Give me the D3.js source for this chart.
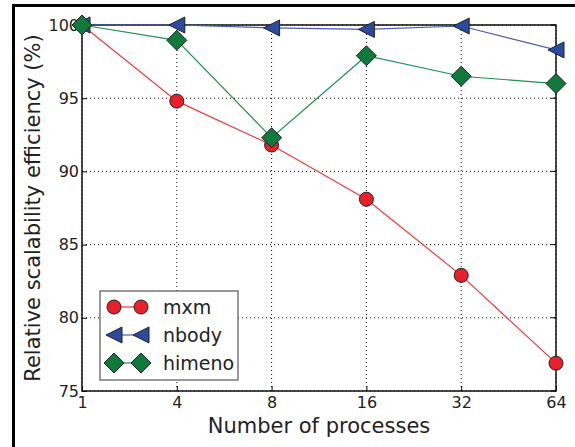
<!DOCTYPE html>
<html>
<head>
<meta charset="utf-8">
<script src="https://cdn.jsdelivr.net/npm/d3@7"></script>
<style>
  body { margin: 0; background: #fff; }
  text { font-family: "DejaVu Sans", sans-serif; fill: #222; }
</style>
</head>
<body>
<div id="chart"></div>
<script>
var processes = ['1', '4', '8', '16', '32', '64'];
var mxm    = [100, 94.8, 91.8, 88.1, 82.9, 76.9];
var nbody  = [100, 100, 99.8, 99.7, 99.93, 98.3];
var himeno = [100, 98.95, 92.3, 97.9, 96.5, 96.0];
var yTicks = [75, 80, 85, 90, 95, 100];

var width = 575, height = 447;
var margin = {left: 82, right: 19, top: 25, bottom: 56};

var svg = d3.select('#chart')
	.append('svg')
	.attr('width', width)
	.attr('height', height);

// outer frame (only left and top visible)
svg.append('path')
	.attr('d', 'M13.5,' + height + 'V5.5H' + width)
	.attr('fill', 'none')
	.attr('stroke', '#000')
	.attr('stroke-width', 3);

var x = d3.scalePoint()
	.domain(processes)
	.range([margin.left, width - margin.right]);

var y = d3.scaleLinear()
	.domain([75, 100])
	.range([height - margin.bottom, margin.top]);

// grid
svg.append('g')
	.selectAll('line')
	.data(processes)
	.enter()
	.append('line')
	.attr('x1', function(d) { return x(d); })
	.attr('x2', function(d) { return x(d); })
	.attr('y1', y(75))
	.attr('y2', y(100))
	.attr('stroke', '#000')
	.attr('stroke-width', 1)
	.attr('stroke-dasharray', '1,3');

svg.append('g')
	.selectAll('line')
	.data(yTicks)
	.enter()
	.append('line')
	.attr('x1', x.range()[0])
	.attr('x2', x.range()[1])
	.attr('y1', function(d) { return y(d); })
	.attr('y2', function(d) { return y(d); })
	.attr('stroke', '#000')
	.attr('stroke-width', 1)
	.attr('stroke-dasharray', '1,3');

// axes, ticks inward
var xAxis = svg.append('g')
	.attr('transform', 'translate(0,' + y(75) + ')')
	.call(d3.axisBottom(x).tickSizeInner(-5).tickSizeOuter(0).tickPadding(6));

var yAxis = svg.append('g')
	.attr('transform', 'translate(' + margin.left + ',0)')
	.call(d3.axisLeft(y).tickValues(yTicks).tickSizeInner(-5).tickSizeOuter(0).tickPadding(3));

[xAxis, yAxis].forEach(function(a) {
	a.select('.domain').remove();
	a.selectAll('text').style('font-size', '16px').attr('fill', '#222');
	a.selectAll('line').attr('stroke', '#000');
});

// frame of plot area
svg.append('rect')
	.attr('x', x.range()[0])
	.attr('y', y(100))
	.attr('width', x.range()[1] - x.range()[0])
	.attr('height', y(75) - y(100))
	.attr('fill', 'none')
	.attr('stroke', '#111')
	.attr('stroke-width', 1.5);

// right inward ticks
svg.append('g').selectAll('line').data(yTicks).enter().append('line')
	.attr('x1', x.range()[1]).attr('x2', x.range()[1] - 5)
	.attr('y1', function(d) { return y(d); }).attr('y2', function(d) { return y(d); })
	.attr('stroke', '#000');

var series = [
	{name: 'mxm', values: mxm, line: '#f03a3a', fill: '#e8202a', shape: 'circle'},
	{name: 'nbody', values: nbody, line: '#4a5cb0', fill: '#2d4b9e', shape: 'triangle'},
	{name: 'himeno', values: himeno, line: '#1f9150', fill: '#107a3c', shape: 'diamond'}
];

function marker(sel, s) {
	if (s.shape == 'circle') {
		sel.append('circle').attr('r', 7);
	} else if (s.shape == 'triangle') {
		sel.append('path').attr('d', 'M-8,0L8,-8L8,8Z');
	} else {
		sel.append('path').attr('d', 'M0,-10L10,0L0,10L-10,0Z');
	}
	sel.selectAll('circle,path')
		.attr('fill', s.fill)
		.attr('stroke', '#222')
		.attr('stroke-width', 1);
}

var line = d3.line()
	.x(function(d, i) { return x(processes[i]); })
	.y(function(d) { return y(d); });

series.forEach(function(s) {
	svg.append('path')
		.datum(s.values)
		.attr('d', line)
		.attr('fill', 'none')
		.attr('stroke', s.line)
		.attr('stroke-width', 1.2);
	s.values.forEach(function(v, i) {
		var g = svg.append('g')
			.attr('transform', 'translate(' + x(processes[i]) + ',' + y(v) + ')');
		marker(g, s);
	});
});

// legend
var legend = svg.append('g').attr('transform', 'translate(100,291)');
legend.append('rect')
	.attr('width', 138)
	.attr('height', 89)
	.attr('fill', '#fff')
	.attr('stroke', '#555')
	.attr('stroke-width', 1.2);

series.forEach(function(s, i) {
	var ly = 16 + i * 28;
	legend.append('line')
		.attr('x1', 14).attr('x2', 41)
		.attr('y1', ly).attr('y2', ly)
		.attr('stroke', s.line)
		.attr('stroke-width', 1.2);
	[14, 41].forEach(function(mx) {
		marker(legend.append('g').attr('transform', 'translate(' + mx + ',' + ly + ')'), s);
	});
	legend.append('text')
		.attr('x', 63)
		.attr('y', ly + 7)
		.style('font-size', '19px')
		.text(s.name);
});

// axis labels
svg.append('text')
	.attr('x', (x.range()[0] + x.range()[1]) / 2)
	.attr('y', 433)
	.attr('text-anchor', 'middle')
	.style('font-size', '21px')
	.text('Number of processes');

svg.append('text')
	.attr('transform', 'translate(40,' + ((y(75) + y(100)) / 2) + ') rotate(-90)')
	.attr('text-anchor', 'middle')
	.style('font-size', '21px')
	.text('Relative scalability efficiency (%)');
</script>
</body>
</html>
